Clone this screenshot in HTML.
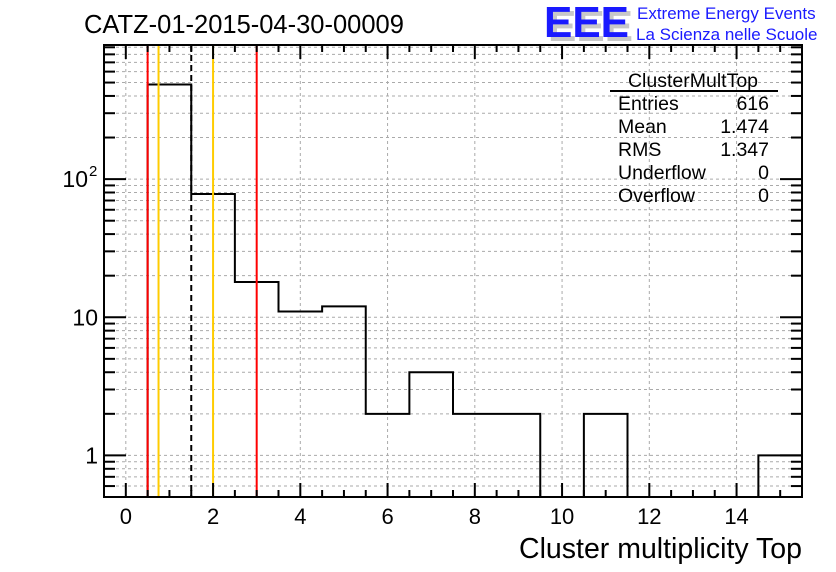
<!DOCTYPE html>
<html><head><meta charset="utf-8"><style>
body{margin:0;background:#fff;width:836px;height:572px;overflow:hidden}
svg{display:block;font-family:"Liberation Sans",sans-serif}
</style></head><body>
<svg id="c" width="836" height="572">
<text x="84" y="33" font-size="25.5">CATZ-01-2015-04-30-00009</text>
<g>
<text x="548" y="41" font-size="44" font-weight="bold" fill="#c8c8c8" textLength="85" lengthAdjust="spacingAndGlyphs">EEE</text>
<text x="544" y="37" font-size="44" font-weight="bold" fill="#1a1aff" textLength="85" lengthAdjust="spacingAndGlyphs">EEE</text>
<text x="637" y="19" font-size="17" fill="#1a1aff">Extreme Energy Events</text>
<text x="636" y="40" font-size="17" fill="#1a1aff">La Scienza nelle Scuole</text>
</g>
<g id="grid"></g><g id="marks"></g><g id="axes"></g>
<g font-size="19.5">
<text x="693" y="87" text-anchor="middle">ClusterMultTop</text>
<line x1="610" y1="91" x2="778" y2="91" stroke="#000" stroke-width="2"/>
<text x="618" y="110">Entries</text><text x="769" y="110" text-anchor="end">616</text>
<text x="618" y="133">Mean</text><text x="769" y="133" text-anchor="end">1.474</text>
<text x="618" y="156">RMS</text><text x="769" y="156" text-anchor="end">1.347</text>
<text x="618" y="179">Underflow</text><text x="769" y="179" text-anchor="end">0</text>
<text x="618" y="202">Overflow</text><text x="769" y="202" text-anchor="end">0</text>
</g>
<text x="802" y="558" font-size="28.5" text-anchor="end">Cluster multiplicity Top</text>
</svg>
<script>
const binCenters=[1,2,3,4,5,6,7,8,9,10,11,12,13,14,15];
const binCounts=[484,78,18,11,12,2,4,2,2,0,2,0,0,0,1];
const xTicks=[0,2,4,6,8,10,12,14];
const yTicks=[1,10,100];
const yTickLabels=["1","10","10"];
const yTickSups=["","","2"];
const redLines=[0.5,3.0];
const orangeLines=[0.75,2.0];
const meanLine=[1.5];
const L=104,R=802,T=45,B=497,xmin=-0.5,xmax=15.5,ymin=0.5,ymax=935;
const X=v=>L+(v-xmin)/(xmax-xmin)*(R-L);
const Y=v=>B-(Math.log10(v)-Math.log10(ymin))/(Math.log10(ymax)-Math.log10(ymin))*(B-T);
const NS="http://www.w3.org/2000/svg";
function mk(p,t,a){const e=document.createElementNS(NS,t);for(const k in a)e.setAttribute(k,a[k]);(typeof p==='string'?document.getElementById(p):p).appendChild(e);return e;}
for(const t of xTicks){const e=mk('grid','line',{x1:X(t),x2:X(t),y1:T,y2:B,stroke:'#aaa','stroke-dasharray':'3,3'});

}
const minorY=[];for(let d=0.1;d<=100;d*=10)for(let m=1;m<=9;m++){const v=+(d*m).toPrecision(3);if(v>=ymin&&v<=ymax)minorY.push(v);}
for(const v of minorY){const e=mk('grid','line',{x1:L,x2:R,y1:Y(v),y2:Y(v),stroke:'#aaa','stroke-dasharray':'3,3'});

}
let d='';const w=1;
binCenters.forEach((c,i)=>{const y=binCounts[i]>0?Y(binCounts[i]):B;const x0=X(c-w/2),x1=X(c+w/2);d+=(i==0?`M${x0},${B}`:'')+`L${x0},${y}L${x1},${y}`;});
d+=`L${X(binCenters[binCenters.length-1]+w/2)},${B}`;
const h=mk('marks','path',{d:d,fill:'none',stroke:'#000','stroke-width':2});


for(const v of redLines){const e=mk('marks','line',{x1:X(v),x2:X(v),y1:T,y2:B,stroke:'#f00','stroke-width':2});

}
for(const v of orangeLines){const e=mk('marks','line',{x1:X(v),x2:X(v),y1:T,y2:B,stroke:'#ffcc00','stroke-width':2});

}
for(const v of meanLine){const e=mk('marks','line',{x1:X(v),x2:X(v),y1:T,y2:B,stroke:'#000','stroke-width':2,'stroke-dasharray':'6,4'});

}
const f=mk('axes','rect',{x:L,y:T,width:R-L,height:B-T,fill:'none',stroke:'#000','stroke-width':2});


for(let v=0;v<=15.01;v+=0.5){const maj=Math.abs(v/2-Math.round(v/2))<1e-6;const len=maj?14:7;
mk('axes','line',{x1:X(v),x2:X(v),y1:B,y2:B-len,stroke:'#000','stroke-width':2});
mk('axes','line',{x1:X(v),x2:X(v),y1:T,y2:T+len,stroke:'#000','stroke-width':2});}
xTicks.forEach(t=>{const e=mk('axes','text',{x:X(t),y:524,'font-size':22,'text-anchor':'middle'});e.textContent=t;

});
for(const v of minorY){const maj=yTicks.includes(v);const len=maj?22:11;
mk('axes','line',{x1:L,x2:L+len,y1:Y(v),y2:Y(v),stroke:'#000','stroke-width':2});
mk('axes','line',{x1:R,x2:R-len,y1:Y(v),y2:Y(v),stroke:'#000','stroke-width':2});}
yTicks.forEach((t,i)=>{const sup=yTickSups[i];
const e=mk('axes','text',{x:sup?88:98,y:Y(t)+8,'font-size':23,'text-anchor':'end'});e.textContent=yTickLabels[i];


if(sup){const s=mk('axes','text',{x:89,y:Y(t)-3,'font-size':15});s.textContent=sup;

}});
</script>
</body></html>
